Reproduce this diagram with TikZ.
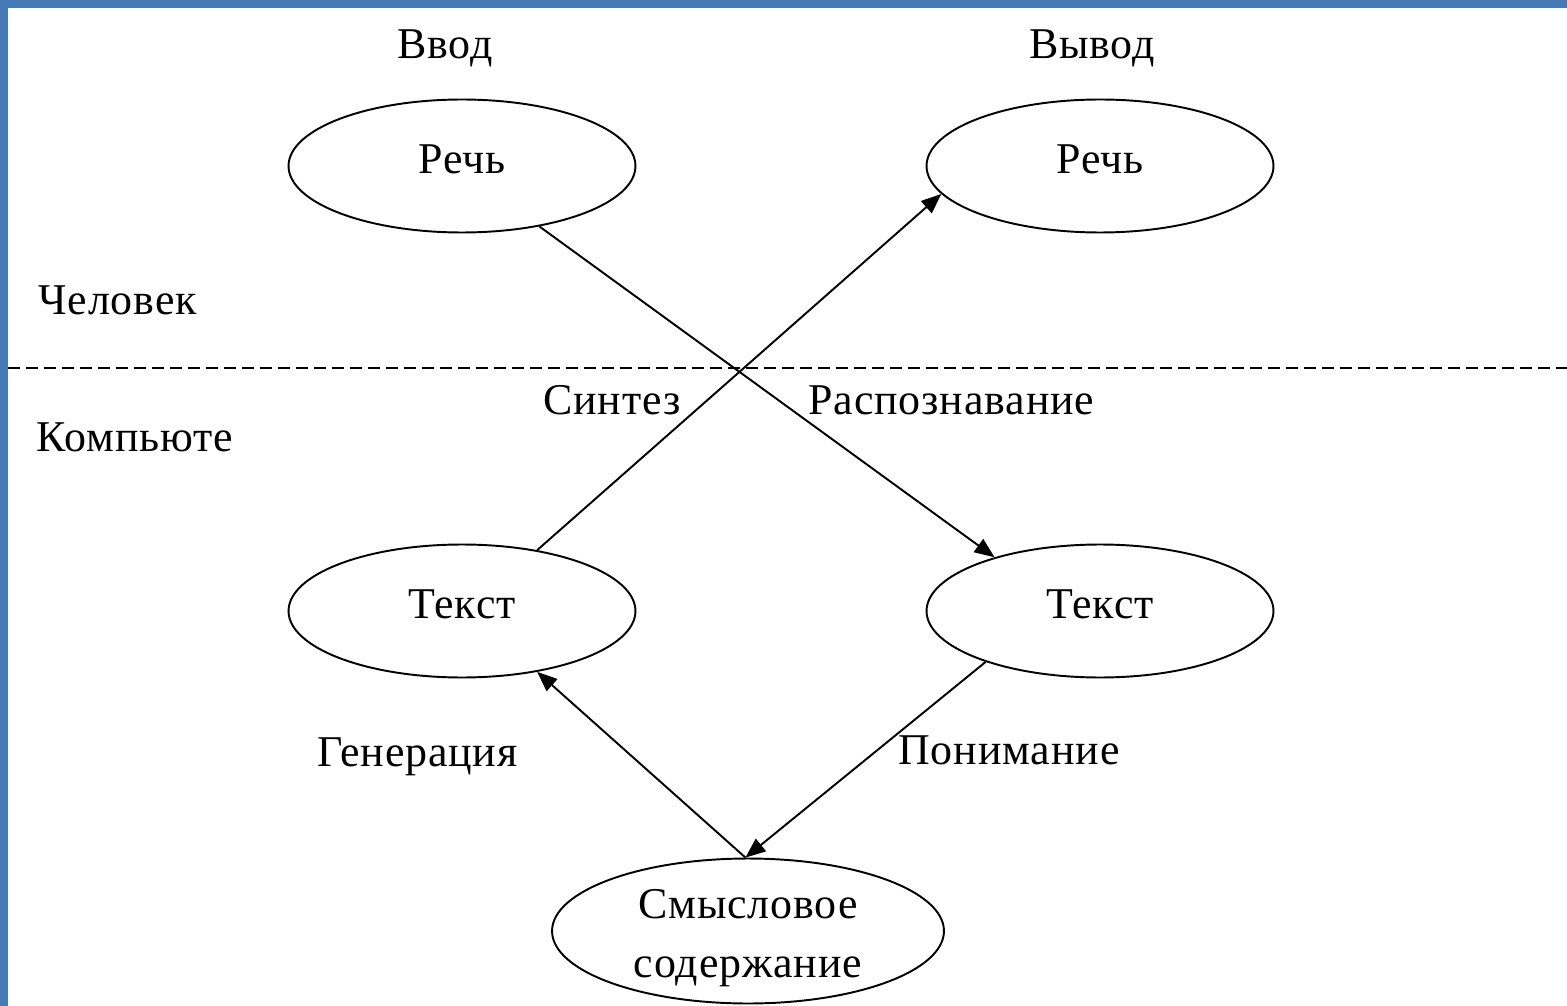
\documentclass[tikz,border=0pt]{standalone}
\usepackage{fontspec}
\setmainfont{Liberation Serif}[LetterSpace=2]
\usetikzlibrary{shapes.geometric,arrows.meta}
\definecolor{slideblue}{RGB}{70,122,183}
\tikzset{
  oval/.style={draw,ellipse,line width=1.1pt,minimum width=6.94cm,minimum height=2.66cm,inner sep=0pt,text height=0.6cm,text depth=0.3cm,font=\fontsize{25}{29}\selectfont},
  lbl/.style={inner sep=0pt,font=\fontsize{25}{29}\selectfont},
  link/.style={line width=1.1pt,-{Triangle[length=0.4cm,width=0.32cm]}},
}
\begin{document}
\begin{tikzpicture}[x=0.02cm,y=-0.02cm]
    \useasboundingbox (0,0) rectangle (1567,1006);
    %Frame
    \fill[slideblue] (0,0) rectangle (1567,8);
    \fill[slideblue] (0,0) rectangle (8,1006);
    %Border
    \draw[line width=1.1pt,dash pattern=on 0.24cm off 0.12cm] (8,368) -- (1567,368);
    %Ovals
    \node[oval] (speechin) at (462,166) {Речь};
    \node[oval] (speechout) at (1100,166) {Речь};
    \node[oval] (textin) at (462,611) {Текст};
    \node[oval] (textout) at (1100,611) {Текст};
    \node[oval,minimum width=7.84cm,minimum height=2.9cm,inner ysep=-0.6cm,align=center,text height=,text depth=,font=\fontsize{25}{33.5}\selectfont] (meaning) at (748,931) {\rule{0pt}{0.85cm}Смысловое\\содержание};
    %Labels
    \node[lbl] (vvod) at (445,48) {Ввод};
    \node[lbl] (vyvod) at (1092,48) {Вывод};
    \node[lbl,anchor=west] (chel) at (38,300) {Человек};
    \node[lbl,anchor=west] (komp) at (36,437) {Компьюте};
    \node[lbl] (sintez) at (612,400) {Синтез};
    \node[lbl,anchor=west] (raspoz) at (808,400) {Распознавание};
    \node[lbl,anchor=west] (gener) at (317,757) {Генерация};
    \node[lbl,anchor=west] (ponim) at (898,750) {Понимание};
    %Arrows
    \draw[link] (speechin.-38) -- (textout.153);
    \draw[link] (textin.39) -- (speechout.-170);
    \draw[link] (textout.204) -- (meaning.92);
    \draw[link] (meaning.92) -- (textin.-39);
\end{tikzpicture}
\end{document}
